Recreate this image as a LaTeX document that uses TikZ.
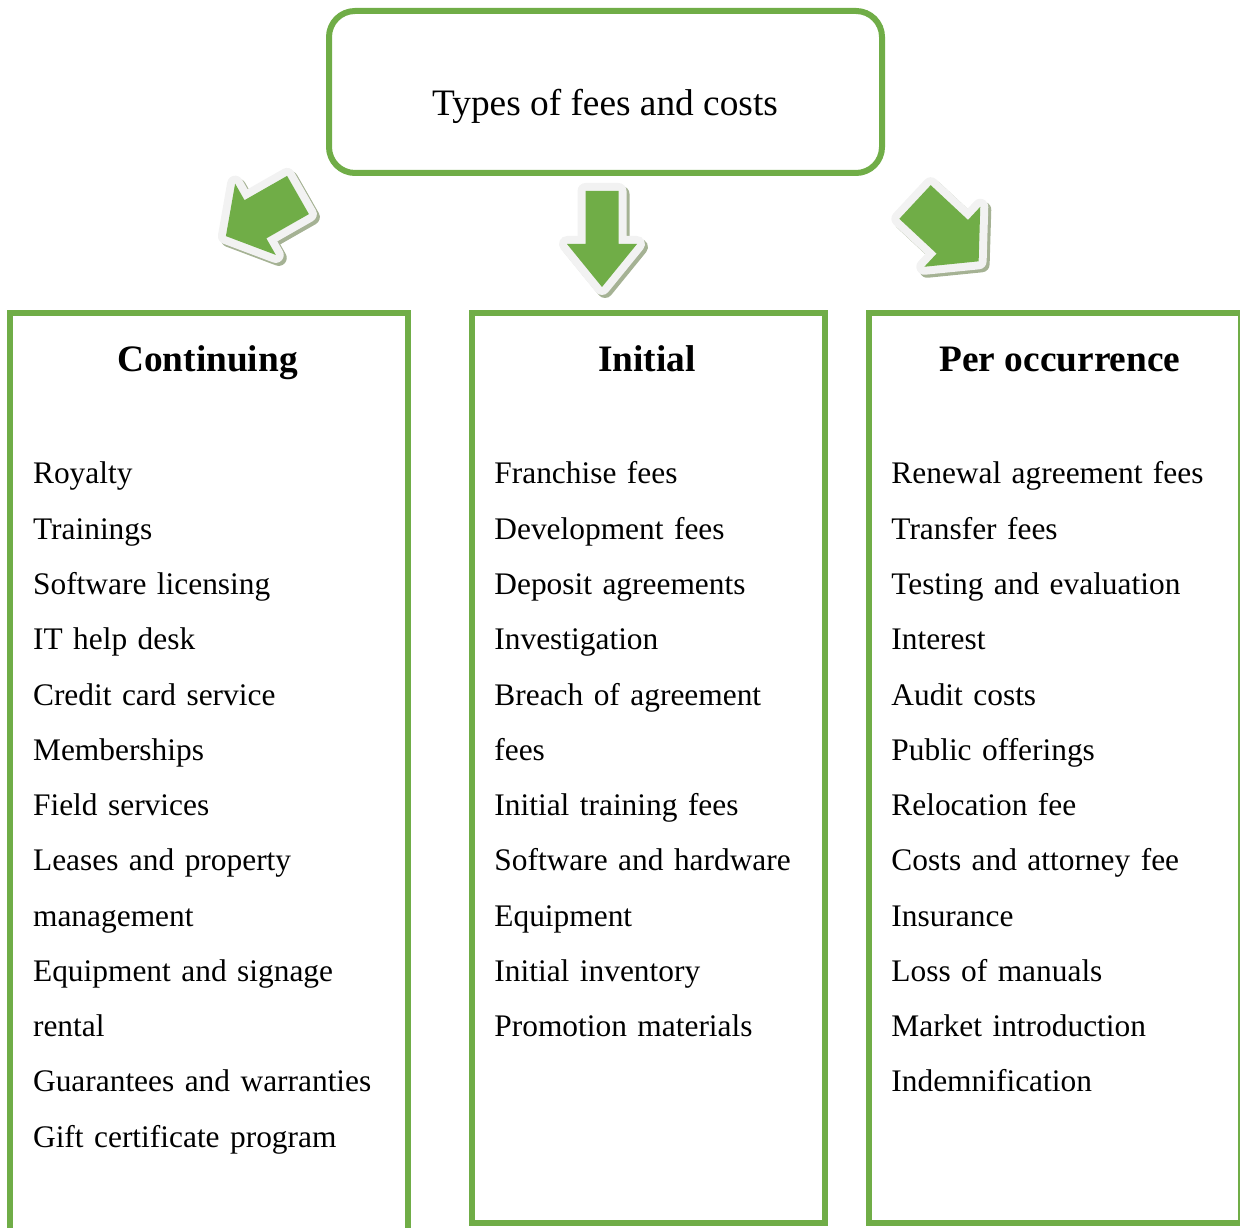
\documentclass[tikz,border=0pt]{standalone}
\usepackage{fontspec}
\setmainfont{Liberation Serif}
\usepackage{tikz}
\usetikzlibrary{shapes.geometric, arrows}
\usetikzlibrary{arrows.meta}
\definecolor{feegreen}{RGB}{112,173,71}
\definecolor{feeedge}{RGB}{242,242,242}
\definecolor{feeshade}{RGB}{165,178,148}
\tikzstyle{topbox} = [rectangle, rounded corners=13pt, minimum width=276.5pt, minimum height=81pt, draw=feegreen, line width=3pt]
\tikzstyle{colbox} = [rectangle, draw=feegreen, line width=3pt]
\tikzstyle{heading} = [font=\bfseries\fontsize{18.67}{22}\selectfont, anchor=base, inner sep=0pt]
\tikzstyle{titletext} = [font=\fontsize{18.67}{22}\selectfont, anchor=base, inner sep=0pt]
\tikzstyle{item} = [font=\fontsize{15.7}{19}\selectfont, text width=175pt, align=left, inner sep=0pt, text height=11.5pt, text depth=4pt]
\tikzstyle{arrowshadow} = [draw=feeshade, fill=feeshade, line width=8pt, line join=round]
\tikzstyle{arrowedge} = [draw=feeedge, fill=feeedge, line width=8pt, line join=round]
\tikzstyle{arrowbody} = [fill=feegreen]
% tail, angle, length, shaft half width, head half width, head length
\newcommand{\feearrow}[6]{%
  \begin{scope}[shift={(#1)}, xshift=1.5pt, yshift=-1.5pt, rotate=#2]
    \draw [arrowshadow] (0,-#4) -- (#3-#6,-#4) -- (#3-#6,-#5) -- (#3,0) -- (#3-#6,#5) -- (#3-#6,#4) -- (0,#4) -- cycle;
  \end{scope}
  \begin{scope}[shift={(#1)}, rotate=#2]
    \draw [arrowedge] (0,-#4) -- (#3-#6,-#4) -- (#3-#6,-#5) -- (#3,0) -- (#3-#6,#5) -- (#3-#6,#4) -- (0,#4) -- cycle;
    \fill [arrowbody] (0,-#4) -- (#3-#6,-#4) -- (#3-#6,-#5) -- (#3,0) -- (#3-#6,#5) -- (#3-#6,#4) -- (0,#4) -- cycle;
  \end{scope}}

\begin{document}
\begin{tikzpicture}[x=1pt, y=1pt, node distance=27.625pt]
                        \useasboundingbox (0,0) rectangle (620,613.5);

                        % arrows from the top box
                        \feearrow{149,516}{209.7}{41.5}{11}{20.5}{17}
                        \feearrow{301,518}{-90}{48}{8.25}{17.5}{21.5}
                        \feearrow{457.5,512.5}{-43}{43.5}{11.5}{20.5}{18}

                        \node (types) [topbox] at (302.75,567.5) {};
                        \node (typestext) [titletext] at (302.5,555.5) {Types of fees and costs};

                        \node (contbox) [colbox, minimum width=199.25pt, minimum height=463.5pt] at (104.375,225.25) {};
                        \node (initbox) [colbox, minimum width=176.5pt, minimum height=454.75pt] at (324.25,229.625) {};
                        \node (perbox) [colbox, minimum width=186.25pt, minimum height=454.75pt] at (527.375,229.625) {};

                        \node (conthead) [heading] at (103.75,427.5) {Continuing};
                        \node (inithead) [heading] at (323.5,427.5) {Initial};
                        \node (perhead) [heading] at (530,427.5) {Per occurrence};

                        % continuing
                        \node (c1) [item, anchor=base west] at (16.35,371.5) {Royalty};
                        \node (c2) [item, below of=c1] {Trainings};
                        \node (c3) [item, below of=c2] {Software licensing};
                        \node (c4) [item, below of=c3] {IT help desk};
                        \node (c5) [item, below of=c4] {Credit card service};
                        \node (c6) [item, below of=c5] {Memberships};
                        \node (c7) [item, below of=c6] {Field services};
                        \node (c8) [item, below of=c7] {Leases and property};
                        \node (c9) [item, below of=c8] {management};
                        \node (c10) [item, below of=c9] {Equipment and signage};
                        \node (c11) [item, below of=c10] {rental};
                        \node (c12) [item, below of=c11] {Guarantees and warranties};
                        \node (c13) [item, below of=c12] {Gift certificate program};

                        % initial
                        \node (i1) [item, anchor=base west] at (247,371.5) {Franchise fees};
                        \node (i2) [item, below of=i1] {Development fees};
                        \node (i3) [item, below of=i2] {Deposit agreements};
                        \node (i4) [item, below of=i3] {Investigation};
                        \node (i5) [item, below of=i4] {Breach of agreement};
                        \node (i6) [item, below of=i5] {fees};
                        \node (i7) [item, below of=i6] {Initial training fees};
                        \node (i8) [item, below of=i7] {Software and hardware};
                        \node (i9) [item, below of=i8] {Equipment};
                        \node (i10) [item, below of=i9] {Initial inventory};
                        \node (i11) [item, below of=i10] {Promotion materials};

                        % per occurrence
                        \node (p1) [item, anchor=base west] at (445.5,371.5) {Renewal agreement fees};
                        \node (p2) [item, below of=p1] {Transfer fees};
                        \node (p3) [item, below of=p2] {Testing and evaluation};
                        \node (p4) [item, below of=p3] {Interest};
                        \node (p5) [item, below of=p4] {Audit costs};
                        \node (p6) [item, below of=p5] {Public offerings};
                        \node (p7) [item, below of=p6] {Relocation fee};
                        \node (p8) [item, below of=p7] {Costs and attorney fee};
                        \node (p9) [item, below of=p8] {Insurance};
                        \node (p10) [item, below of=p9] {Loss of manuals};
                        \node (p11) [item, below of=p10] {Market introduction};
                        \node (p12) [item, below of=p11] {Indemnification};
                    \end{tikzpicture}
\end{document}
